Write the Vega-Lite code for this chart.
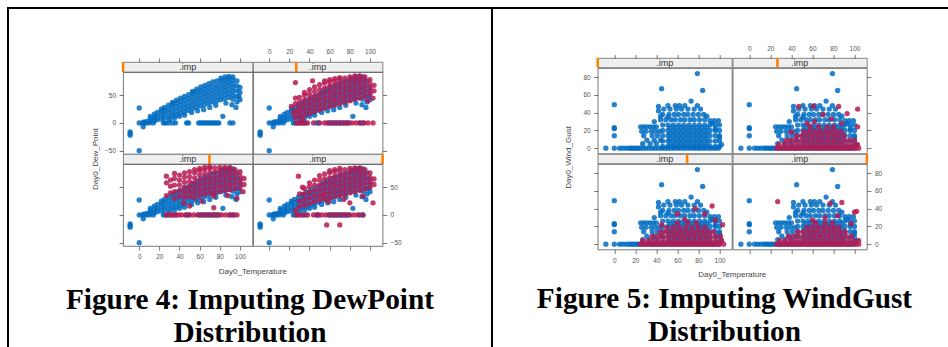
{
"$schema": "https://vega.github.io/schema/vega-lite/v6.json",
"padding": {"left": 7, "top": 7, "right": 0, "bottom": 0},
"background": "white",
"spacing": 0,
"config": {
  "view": {"stroke": null},
  "axis": {"domain": false, "grid": false, "ticks": true, "tickSize": 4, "tickColor": "#555", "tickWidth": 0.8, "tickCount": 12, "labelFont": "Liberation Sans", "labelFontSize": 6.5, "labelColor": "#555", "labelPadding": 3.5, "labelOverlap": false, "labelFlush": false, "labelBound": false},
  "title": {"font": "Liberation Sans", "fontSize": 8, "fontWeight": "normal", "color": "#444", "anchor": "middle"}
},
"datasets": {
"dew_obs": [{"temp":0,"dew":0},{"temp":3,"dew":0},{"temp":5,"dew":0},{"temp":7,"dew":0},{"temp":10,"dew":0},{"temp":14,"dew":0},{"temp":24,"dew":0},{"temp":26,"dew":0},{"temp":29,"dew":0},{"temp":33,"dew":0},{"temp":36,"dew":0},{"temp":47,"dew":0},{"temp":49,"dew":0},{"temp":59,"dew":0},{"temp":61,"dew":0},{"temp":63,"dew":0},{"temp":65,"dew":0},{"temp":67,"dew":0},{"temp":69,"dew":0},{"temp":71,"dew":0},{"temp":73,"dew":0},{"temp":75,"dew":0},{"temp":77,"dew":0},{"temp":79,"dew":0},{"temp":90,"dew":0},{"temp":93,"dew":0},
{"temp":0,"dew":27},{"temp":-9,"dew":-16},{"temp":-9,"dew":-19},{"temp":-9,"dew":-22},{"temp":0,"dew":-50},{"temp":4,"dew":-7},{"temp":83,"dew":12},{"temp":5,"dew":2},{"temp":8,"dew":3},
{"temp":11,"dew":3},{"temp":11,"dew":8},{"temp":11,"dew":12},
{"temp":15,"dew":4},{"temp":15,"dew":10},{"temp":15,"dew":16},
{"temp":18,"dew":6},{"temp":18,"dew":12},{"temp":18,"dew":19},
{"temp":22,"dew":7},{"temp":22,"dew":14},{"temp":22,"dew":21},{"temp":22,"dew":25},
{"temp":25,"dew":9},{"temp":25,"dew":16},{"temp":25,"dew":23},{"temp":25,"dew":28},
{"temp":29,"dew":11},{"temp":29,"dew":18},{"temp":29,"dew":25},{"temp":29,"dew":32},
{"temp":33,"dew":13},{"temp":33,"dew":20},{"temp":33,"dew":27},{"temp":33,"dew":34},{"temp":33,"dew":37},
{"temp":37,"dew":15},{"temp":37,"dew":22},{"temp":37,"dew":29},{"temp":37,"dew":36},{"temp":37,"dew":41},
{"temp":41,"dew":18},{"temp":41,"dew":25},{"temp":41,"dew":32},{"temp":41,"dew":39},{"temp":41,"dew":45},
{"temp":45,"dew":20},{"temp":45,"dew":27},{"temp":45,"dew":34},{"temp":45,"dew":41},{"temp":45,"dew":48},
{"temp":49,"dew":23},{"temp":49,"dew":30},{"temp":49,"dew":37},{"temp":49,"dew":44},{"temp":49,"dew":51},
{"temp":53,"dew":26},{"temp":53,"dew":33},{"temp":53,"dew":40},{"temp":53,"dew":47},{"temp":53,"dew":54},{"temp":53,"dew":57},
{"temp":57,"dew":28},{"temp":57,"dew":35},{"temp":57,"dew":42},{"temp":57,"dew":49},{"temp":57,"dew":56},{"temp":57,"dew":61},
{"temp":61,"dew":31},{"temp":61,"dew":38},{"temp":61,"dew":45},{"temp":61,"dew":52},{"temp":61,"dew":59},{"temp":61,"dew":65},
{"temp":65,"dew":33},{"temp":65,"dew":40},{"temp":65,"dew":47},{"temp":65,"dew":54},{"temp":65,"dew":61},{"temp":65,"dew":68},
{"temp":69,"dew":36},{"temp":69,"dew":43},{"temp":69,"dew":50},{"temp":69,"dew":57},{"temp":69,"dew":64},{"temp":69,"dew":71},
{"temp":73,"dew":38},{"temp":73,"dew":45},{"temp":73,"dew":52},{"temp":73,"dew":59},{"temp":73,"dew":66},{"temp":73,"dew":74},
{"temp":77,"dew":40},{"temp":77,"dew":47},{"temp":77,"dew":54},{"temp":77,"dew":61},{"temp":77,"dew":68},{"temp":77,"dew":76},
{"temp":81,"dew":42},{"temp":81,"dew":49},{"temp":81,"dew":56},{"temp":81,"dew":63},{"temp":81,"dew":70},{"temp":81,"dew":77},{"temp":81,"dew":81},
{"temp":85,"dew":44},{"temp":85,"dew":51},{"temp":85,"dew":58},{"temp":85,"dew":65},{"temp":85,"dew":72},{"temp":85,"dew":78},{"temp":85,"dew":83},
{"temp":89,"dew":46},{"temp":89,"dew":53},{"temp":89,"dew":60},{"temp":89,"dew":67},{"temp":89,"dew":74},{"temp":89,"dew":80},{"temp":89,"dew":84},
{"temp":93,"dew":43},{"temp":93,"dew":50},{"temp":93,"dew":57},{"temp":93,"dew":64},{"temp":93,"dew":71},{"temp":93,"dew":78},{"temp":93,"dew":83},
{"temp":97,"dew":38},{"temp":97,"dew":48},{"temp":97,"dew":58},{"temp":97,"dew":67},{"temp":97,"dew":76},
{"temp":100,"dew":42},{"temp":100,"dew":55},{"temp":100,"dew":64},
{"temp":45,"dew":14},{"temp":52,"dew":19},{"temp":58,"dew":22},{"temp":64,"dew":24},{"temp":70,"dew":28},{"temp":76,"dew":32},{"temp":86,"dew":36},{"temp":92,"dew":33},{"temp":96,"dew":28},{"temp":99,"dew":48},{"temp":40,"dew":12},{"temp":35,"dew":9},{"temp":30,"dew":6}],
"dew_imp_a": [{"temp":26,"dew":10},{"temp":26,"dew":22},{"temp":26,"dew":35},{"temp":26,"dew":45},
{"temp":30,"dew":12},{"temp":30,"dew":20},{"temp":30,"dew":28},{"temp":30,"dew":37},{"temp":30,"dew":46},
{"temp":35,"dew":14},{"temp":35,"dew":23},{"temp":35,"dew":32},{"temp":35,"dew":41},{"temp":35,"dew":50},{"temp":35,"dew":55},
{"temp":40,"dew":17},{"temp":40,"dew":26},{"temp":40,"dew":35},{"temp":40,"dew":44},{"temp":40,"dew":52},{"temp":40,"dew":60},
{"temp":45,"dew":21},{"temp":45,"dew":30},{"temp":45,"dew":39},{"temp":45,"dew":48},{"temp":45,"dew":57},{"temp":45,"dew":65},
{"temp":50,"dew":24},{"temp":50,"dew":33},{"temp":50,"dew":42},{"temp":50,"dew":51},{"temp":50,"dew":60},{"temp":50,"dew":69},
{"temp":55,"dew":27},{"temp":55,"dew":36},{"temp":55,"dew":45},{"temp":55,"dew":54},{"temp":55,"dew":63},{"temp":55,"dew":72},{"temp":55,"dew":76},
{"temp":60,"dew":30},{"temp":60,"dew":39},{"temp":60,"dew":48},{"temp":60,"dew":57},{"temp":60,"dew":66},{"temp":60,"dew":74},{"temp":60,"dew":78},
{"temp":65,"dew":32},{"temp":65,"dew":41},{"temp":65,"dew":50},{"temp":65,"dew":59},{"temp":65,"dew":68},{"temp":65,"dew":76},{"temp":65,"dew":80},
{"temp":70,"dew":35},{"temp":70,"dew":44},{"temp":70,"dew":53},{"temp":70,"dew":62},{"temp":70,"dew":71},{"temp":70,"dew":79},{"temp":70,"dew":82},
{"temp":75,"dew":37},{"temp":75,"dew":46},{"temp":75,"dew":55},{"temp":75,"dew":64},{"temp":75,"dew":73},{"temp":75,"dew":81},
{"temp":80,"dew":40},{"temp":80,"dew":49},{"temp":80,"dew":58},{"temp":80,"dew":67},{"temp":80,"dew":76},{"temp":80,"dew":83},
{"temp":85,"dew":43},{"temp":85,"dew":52},{"temp":85,"dew":61},{"temp":85,"dew":70},{"temp":85,"dew":78},{"temp":85,"dew":85},
{"temp":90,"dew":45},{"temp":90,"dew":54},{"temp":90,"dew":63},{"temp":90,"dew":72},{"temp":90,"dew":80},{"temp":90,"dew":85},
{"temp":95,"dew":48},{"temp":95,"dew":57},{"temp":95,"dew":66},{"temp":95,"dew":75},{"temp":95,"dew":83},
{"temp":100,"dew":52},{"temp":100,"dew":61},{"temp":100,"dew":70},{"temp":100,"dew":78},
{"temp":104,"dew":58},{"temp":104,"dew":68},
{"temp":26,"dew":73},{"temp":43,"dew":76},{"temp":22,"dew":30},{"temp":24,"dew":18},{"temp":33,"dew":5},{"temp":103,"dew":45},{"temp":98,"dew":40},
{"temp":27,"dew":0},{"temp":30,"dew":0},{"temp":32,"dew":0},{"temp":35,"dew":0},{"temp":38,"dew":0},{"temp":44,"dew":0},{"temp":50,"dew":0},{"temp":55,"dew":0},{"temp":58,"dew":0},{"temp":62,"dew":0},{"temp":66,"dew":0},{"temp":70,"dew":0},{"temp":74,"dew":0},{"temp":78,"dew":0},{"temp":82,"dew":0},{"temp":86,"dew":0},{"temp":90,"dew":0},{"temp":94,"dew":0},{"temp":98,"dew":0},{"temp":103,"dew":0}],
"dew_imp_b": [{"temp":27,"dew":35},{"temp":27,"dew":58},{"temp":27,"dew":70},
{"temp":31,"dew":40},{"temp":31,"dew":52},{"temp":31,"dew":63},
{"temp":35,"dew":30},{"temp":35,"dew":42},{"temp":35,"dew":54},{"temp":35,"dew":66},{"temp":35,"dew":75},
{"temp":40,"dew":34},{"temp":40,"dew":44},{"temp":40,"dew":54},{"temp":40,"dew":63},{"temp":40,"dew":72},
{"temp":45,"dew":32},{"temp":45,"dew":41},{"temp":45,"dew":50},{"temp":45,"dew":59},{"temp":45,"dew":68},{"temp":45,"dew":76},
{"temp":50,"dew":33},{"temp":50,"dew":42},{"temp":50,"dew":51},{"temp":50,"dew":60},{"temp":50,"dew":69},{"temp":50,"dew":78},
{"temp":55,"dew":31},{"temp":55,"dew":40},{"temp":55,"dew":49},{"temp":55,"dew":58},{"temp":55,"dew":67},{"temp":55,"dew":76},{"temp":55,"dew":82},
{"temp":60,"dew":36},{"temp":60,"dew":45},{"temp":60,"dew":54},{"temp":60,"dew":63},{"temp":60,"dew":72},{"temp":60,"dew":80},{"temp":60,"dew":84},
{"temp":65,"dew":38},{"temp":65,"dew":47},{"temp":65,"dew":56},{"temp":65,"dew":65},{"temp":65,"dew":74},{"temp":65,"dew":82},{"temp":65,"dew":86},
{"temp":70,"dew":40},{"temp":70,"dew":49},{"temp":70,"dew":58},{"temp":70,"dew":67},{"temp":70,"dew":76},{"temp":70,"dew":84},{"temp":70,"dew":87},
{"temp":75,"dew":41},{"temp":75,"dew":50},{"temp":75,"dew":59},{"temp":75,"dew":68},{"temp":75,"dew":77},{"temp":75,"dew":85},
{"temp":80,"dew":43},{"temp":80,"dew":52},{"temp":80,"dew":61},{"temp":80,"dew":70},{"temp":80,"dew":79},{"temp":80,"dew":86},
{"temp":85,"dew":44},{"temp":85,"dew":53},{"temp":85,"dew":62},{"temp":85,"dew":71},{"temp":85,"dew":80},{"temp":85,"dew":86},
{"temp":90,"dew":46},{"temp":90,"dew":55},{"temp":90,"dew":64},{"temp":90,"dew":73},{"temp":90,"dew":81},{"temp":90,"dew":86},
{"temp":95,"dew":47},{"temp":95,"dew":56},{"temp":95,"dew":65},{"temp":95,"dew":74},{"temp":95,"dew":82},
{"temp":100,"dew":50},{"temp":100,"dew":60},{"temp":100,"dew":70},{"temp":100,"dew":78},
{"temp":104,"dew":55},{"temp":104,"dew":66},
{"temp":50,"dew":16},{"temp":74,"dew":13},{"temp":74,"dew":34},{"temp":62,"dew":25},{"temp":88,"dew":35},{"temp":97,"dew":30},{"temp":44,"dew":22},{"temp":103,"dew":42},
{"temp":27,"dew":0},{"temp":30,"dew":0},{"temp":33,"dew":0},{"temp":36,"dew":0},{"temp":39,"dew":0},{"temp":42,"dew":0},{"temp":46,"dew":0},{"temp":50,"dew":0},{"temp":54,"dew":0},{"temp":58,"dew":0},{"temp":62,"dew":0},{"temp":66,"dew":0},{"temp":70,"dew":0},{"temp":74,"dew":0},{"temp":78,"dew":0},{"temp":82,"dew":0},{"temp":86,"dew":0},{"temp":90,"dew":0},{"temp":94,"dew":0},{"temp":97,"dew":0}],
"dew_imp_c": [{"temp":30,"dew":15},{"temp":30,"dew":25},{"temp":30,"dew":38},
{"temp":35,"dew":18},{"temp":35,"dew":28},{"temp":35,"dew":38},{"temp":35,"dew":48},
{"temp":40,"dew":21},{"temp":40,"dew":31},{"temp":40,"dew":41},{"temp":40,"dew":51},{"temp":40,"dew":58},
{"temp":45,"dew":24},{"temp":45,"dew":34},{"temp":45,"dew":44},{"temp":45,"dew":54},{"temp":45,"dew":63},
{"temp":50,"dew":27},{"temp":50,"dew":36},{"temp":50,"dew":45},{"temp":50,"dew":54},{"temp":50,"dew":63},{"temp":50,"dew":71},
{"temp":55,"dew":29},{"temp":55,"dew":38},{"temp":55,"dew":47},{"temp":55,"dew":56},{"temp":55,"dew":65},{"temp":55,"dew":74},
{"temp":60,"dew":31},{"temp":60,"dew":40},{"temp":60,"dew":49},{"temp":60,"dew":58},{"temp":60,"dew":67},{"temp":60,"dew":76},{"temp":60,"dew":80},
{"temp":65,"dew":33},{"temp":65,"dew":42},{"temp":65,"dew":51},{"temp":65,"dew":60},{"temp":65,"dew":69},{"temp":65,"dew":78},{"temp":65,"dew":82},
{"temp":70,"dew":35},{"temp":70,"dew":44},{"temp":70,"dew":53},{"temp":70,"dew":62},{"temp":70,"dew":71},{"temp":70,"dew":80},{"temp":70,"dew":84},
{"temp":75,"dew":37},{"temp":75,"dew":46},{"temp":75,"dew":55},{"temp":75,"dew":64},{"temp":75,"dew":73},{"temp":75,"dew":82},
{"temp":80,"dew":40},{"temp":80,"dew":49},{"temp":80,"dew":58},{"temp":80,"dew":67},{"temp":80,"dew":76},{"temp":80,"dew":84},
{"temp":85,"dew":42},{"temp":85,"dew":51},{"temp":85,"dew":60},{"temp":85,"dew":69},{"temp":85,"dew":78},{"temp":85,"dew":85},
{"temp":90,"dew":44},{"temp":90,"dew":53},{"temp":90,"dew":62},{"temp":90,"dew":71},{"temp":90,"dew":80},{"temp":90,"dew":85},
{"temp":95,"dew":47},{"temp":95,"dew":56},{"temp":95,"dew":65},{"temp":95,"dew":74},{"temp":95,"dew":82},
{"temp":100,"dew":50},{"temp":100,"dew":59},{"temp":100,"dew":68},{"temp":100,"dew":76},
{"temp":104,"dew":55},{"temp":104,"dew":65},
{"temp":29,"dew":70},{"temp":54,"dew":37},{"temp":59,"dew":24},{"temp":74,"dew":28},{"temp":80,"dew":22},{"temp":103,"dew":22},{"temp":93,"dew":34},{"temp":57,"dew":-18},{"temp":70,"dew":-18},{"temp":26,"dew":8},{"temp":33,"dew":50},
{"temp":27,"dew":0},{"temp":30,"dew":0},{"temp":34,"dew":0},{"temp":38,"dew":0},{"temp":44,"dew":0},{"temp":48,"dew":0},{"temp":52,"dew":0},{"temp":56,"dew":0},{"temp":60,"dew":0},{"temp":64,"dew":0},{"temp":68,"dew":0},{"temp":72,"dew":0},{"temp":76,"dew":0},{"temp":80,"dew":0},{"temp":84,"dew":0},{"temp":88,"dew":0},{"temp":93,"dew":0}],
"wind_obs": [{"temp":-8,"gust":0},{"temp":0,"gust":0},{"temp":5,"gust":0},{"temp":8,"gust":0},{"temp":11,"gust":0},{"temp":14,"gust":0},{"temp":16,"gust":0},{"temp":18,"gust":0},{"temp":20,"gust":0},{"temp":22,"gust":0},{"temp":24,"gust":0},{"temp":27,"gust":0},{"temp":30,"gust":0},{"temp":33,"gust":0},{"temp":36,"gust":0},{"temp":39,"gust":0},{"temp":42,"gust":0},{"temp":45,"gust":0},{"temp":48,"gust":0},{"temp":51,"gust":0},{"temp":54,"gust":0},{"temp":57,"gust":0},{"temp":60,"gust":0},{"temp":63,"gust":0},{"temp":66,"gust":0},{"temp":69,"gust":0},{"temp":72,"gust":0},{"temp":75,"gust":0},{"temp":78,"gust":0},{"temp":81,"gust":0},{"temp":84,"gust":0},{"temp":87,"gust":0},{"temp":90,"gust":0},{"temp":93,"gust":0},{"temp":96,"gust":0},{"temp":99,"gust":0},
{"temp":0,"gust":49},{"temp":0,"gust":23},{"temp":0,"gust":22},{"temp":0,"gust":14},{"temp":45,"gust":67},{"temp":79,"gust":84},{"temp":84,"gust":65},
{"temp":25,"gust":24},{"temp":28,"gust":24},{"temp":31,"gust":24},{"temp":34,"gust":24},{"temp":37,"gust":24},{"temp":40,"gust":24},
{"temp":26,"gust":19},{"temp":30,"gust":19},{"temp":35,"gust":19},{"temp":39,"gust":19},{"temp":43,"gust":19},
{"temp":28,"gust":14},{"temp":36,"gust":14},{"temp":41,"gust":14},{"temp":31,"gust":9},{"temp":38,"gust":9},{"temp":44,"gust":9},{"temp":27,"gust":5},{"temp":34,"gust":5},{"temp":40,"gust":5},
{"temp":42,"gust":47},{"temp":42,"gust":42},{"temp":38,"gust":30},{"temp":44,"gust":36},
{"temp":46,"gust":2},{"temp":51,"gust":2},{"temp":56,"gust":2},{"temp":61,"gust":2},{"temp":66,"gust":2},{"temp":71,"gust":2},{"temp":76,"gust":2},{"temp":81,"gust":2},{"temp":86,"gust":2},{"temp":91,"gust":2},{"temp":96,"gust":2},{"temp":100,"gust":2},
{"temp":46,"gust":8},{"temp":51,"gust":8},{"temp":56,"gust":8},{"temp":61,"gust":8},{"temp":66,"gust":8},{"temp":71,"gust":8},{"temp":76,"gust":8},{"temp":81,"gust":8},{"temp":86,"gust":8},{"temp":91,"gust":8},{"temp":96,"gust":8},{"temp":100,"gust":8},
{"temp":46,"gust":14},{"temp":51,"gust":14},{"temp":56,"gust":14},{"temp":61,"gust":14},{"temp":66,"gust":14},{"temp":71,"gust":14},{"temp":76,"gust":14},{"temp":81,"gust":14},{"temp":86,"gust":14},{"temp":91,"gust":14},{"temp":96,"gust":14},{"temp":100,"gust":14},
{"temp":46,"gust":20},{"temp":51,"gust":20},{"temp":56,"gust":20},{"temp":61,"gust":20},{"temp":66,"gust":20},{"temp":71,"gust":20},{"temp":76,"gust":20},{"temp":81,"gust":20},{"temp":86,"gust":20},{"temp":91,"gust":20},{"temp":96,"gust":20},{"temp":100,"gust":20},
{"temp":46,"gust":26},{"temp":51,"gust":26},{"temp":56,"gust":26},{"temp":61,"gust":26},{"temp":66,"gust":26},{"temp":71,"gust":26},{"temp":76,"gust":26},{"temp":81,"gust":26},{"temp":86,"gust":26},{"temp":91,"gust":26},{"temp":96,"gust":26},{"temp":100,"gust":26},
{"temp":53,"gust":5},{"temp":58,"gust":5},{"temp":63,"gust":5},{"temp":68,"gust":5},{"temp":73,"gust":5},{"temp":78,"gust":5},{"temp":83,"gust":5},{"temp":88,"gust":5},
{"temp":53,"gust":11},{"temp":58,"gust":11},{"temp":63,"gust":11},{"temp":68,"gust":11},{"temp":73,"gust":11},{"temp":78,"gust":11},{"temp":83,"gust":11},{"temp":88,"gust":11},
{"temp":53,"gust":17},{"temp":58,"gust":17},{"temp":63,"gust":17},{"temp":68,"gust":17},{"temp":73,"gust":17},{"temp":78,"gust":17},{"temp":83,"gust":17},{"temp":88,"gust":17},
{"temp":53,"gust":23},{"temp":58,"gust":23},{"temp":63,"gust":23},{"temp":68,"gust":23},{"temp":73,"gust":23},{"temp":78,"gust":23},{"temp":83,"gust":23},{"temp":88,"gust":23},
{"temp":44,"gust":32},{"temp":49,"gust":32},{"temp":54,"gust":32},{"temp":58,"gust":32},{"temp":63,"gust":32},{"temp":67,"gust":32},{"temp":72,"gust":32},{"temp":76,"gust":32},{"temp":81,"gust":32},{"temp":86,"gust":32},{"temp":91,"gust":31},{"temp":95,"gust":31},{"temp":99,"gust":31},
{"temp":46,"gust":38},{"temp":52,"gust":38},{"temp":57,"gust":38},{"temp":61,"gust":38},{"temp":66,"gust":38},{"temp":70,"gust":38},{"temp":75,"gust":38},{"temp":80,"gust":38},{"temp":85,"gust":38},
{"temp":47,"gust":44},{"temp":53,"gust":44},{"temp":59,"gust":44},{"temp":64,"gust":44},{"temp":70,"gust":44},{"temp":76,"gust":44},{"temp":82,"gust":44},
{"temp":51,"gust":48},{"temp":58,"gust":48},{"temp":62,"gust":48},{"temp":67,"gust":48},{"temp":79,"gust":48},{"temp":73,"gust":53},
{"temp":51,"gust":35},{"temp":88,"gust":36},{"temp":96,"gust":22},{"temp":100,"gust":12},{"temp":102,"gust":4},{"temp":93,"gust":28}],
"wind_imp_a": [{"temp":26,"gust":0},{"temp":29,"gust":0},{"temp":32,"gust":0},{"temp":35,"gust":0},{"temp":38,"gust":0},{"temp":41,"gust":0},{"temp":44,"gust":0},{"temp":47,"gust":0},{"temp":50,"gust":0},{"temp":53,"gust":0},{"temp":56,"gust":0},{"temp":59,"gust":0},{"temp":62,"gust":0},{"temp":65,"gust":0},{"temp":68,"gust":0},{"temp":71,"gust":0},{"temp":74,"gust":0},{"temp":77,"gust":0},{"temp":80,"gust":0},{"temp":83,"gust":0},{"temp":86,"gust":0},{"temp":89,"gust":0},{"temp":92,"gust":0},{"temp":95,"gust":0},{"temp":98,"gust":0},{"temp":101,"gust":0},{"temp":104,"gust":0},
{"temp":28,"gust":4},{"temp":33,"gust":4},{"temp":38,"gust":4},{"temp":43,"gust":4},{"temp":48,"gust":4},{"temp":53,"gust":4},{"temp":58,"gust":4},{"temp":63,"gust":4},{"temp":68,"gust":4},{"temp":73,"gust":4},{"temp":78,"gust":4},{"temp":83,"gust":4},{"temp":88,"gust":4},{"temp":93,"gust":4},{"temp":98,"gust":4},{"temp":103,"gust":4},
{"temp":35,"gust":9},{"temp":40,"gust":9},{"temp":45,"gust":9},{"temp":50,"gust":9},{"temp":55,"gust":9},{"temp":60,"gust":9},{"temp":65,"gust":9},{"temp":70,"gust":9},{"temp":75,"gust":9},{"temp":80,"gust":9},{"temp":85,"gust":9},{"temp":90,"gust":9},{"temp":95,"gust":9},{"temp":100,"gust":9},
{"temp":45,"gust":14},{"temp":50,"gust":14},{"temp":55,"gust":14},{"temp":60,"gust":14},{"temp":65,"gust":14},{"temp":70,"gust":14},{"temp":75,"gust":14},{"temp":80,"gust":14},{"temp":85,"gust":14},{"temp":90,"gust":14},
{"temp":52,"gust":19},{"temp":57,"gust":19},{"temp":62,"gust":19},{"temp":67,"gust":19},{"temp":72,"gust":19},{"temp":77,"gust":19},{"temp":82,"gust":19},{"temp":87,"gust":19},
{"temp":58,"gust":24},{"temp":66,"gust":24},{"temp":74,"gust":24},{"temp":80,"gust":24},
{"temp":47,"gust":47},{"temp":61,"gust":47},{"temp":85,"gust":47},{"temp":103,"gust":44},{"temp":93,"gust":39},{"temp":103,"gust":24},{"temp":62,"gust":30},{"temp":78,"gust":33},{"temp":70,"gust":38},{"temp":88,"gust":28},{"temp":55,"gust":28},{"temp":40,"gust":18}],
"wind_imp_b": [{"temp":25,"gust":0},{"temp":28,"gust":0},{"temp":31,"gust":0},{"temp":34,"gust":0},{"temp":37,"gust":0},{"temp":40,"gust":0},{"temp":43,"gust":0},{"temp":46,"gust":0},{"temp":49,"gust":0},{"temp":52,"gust":0},{"temp":55,"gust":0},{"temp":58,"gust":0},{"temp":61,"gust":0},{"temp":64,"gust":0},{"temp":67,"gust":0},{"temp":70,"gust":0},{"temp":73,"gust":0},{"temp":76,"gust":0},{"temp":79,"gust":0},{"temp":82,"gust":0},{"temp":85,"gust":0},{"temp":88,"gust":0},{"temp":91,"gust":0},{"temp":94,"gust":0},{"temp":97,"gust":0},{"temp":100,"gust":0},{"temp":104,"gust":0},
{"temp":27,"gust":4},{"temp":32,"gust":4},{"temp":37,"gust":4},{"temp":42,"gust":4},{"temp":47,"gust":4},{"temp":52,"gust":4},{"temp":57,"gust":4},{"temp":62,"gust":4},{"temp":67,"gust":4},{"temp":72,"gust":4},{"temp":77,"gust":4},{"temp":82,"gust":4},{"temp":87,"gust":4},{"temp":92,"gust":4},{"temp":97,"gust":4},{"temp":102,"gust":4},
{"temp":36,"gust":9},{"temp":41,"gust":9},{"temp":46,"gust":9},{"temp":51,"gust":9},{"temp":56,"gust":9},{"temp":61,"gust":9},{"temp":66,"gust":9},{"temp":71,"gust":9},{"temp":76,"gust":9},{"temp":81,"gust":9},{"temp":86,"gust":9},{"temp":91,"gust":9},{"temp":96,"gust":9},{"temp":101,"gust":9},
{"temp":44,"gust":14},{"temp":49,"gust":14},{"temp":54,"gust":14},{"temp":59,"gust":14},{"temp":64,"gust":14},{"temp":69,"gust":14},{"temp":74,"gust":14},{"temp":79,"gust":14},{"temp":84,"gust":14},{"temp":89,"gust":14},{"temp":94,"gust":14},
{"temp":50,"gust":19},{"temp":56,"gust":19},{"temp":62,"gust":19},{"temp":68,"gust":19},{"temp":74,"gust":19},{"temp":80,"gust":19},{"temp":86,"gust":19},
{"temp":60,"gust":24},{"temp":70,"gust":24},{"temp":78,"gust":24},
{"temp":77,"gust":40},{"temp":93,"gust":43},{"temp":86,"gust":34},{"temp":103,"gust":22},{"temp":60,"gust":34},{"temp":67,"gust":28},{"temp":96,"gust":27},{"temp":45,"gust":22}],
"wind_imp_c": [{"temp":26,"gust":0},{"temp":29,"gust":0},{"temp":32,"gust":0},{"temp":35,"gust":0},{"temp":38,"gust":0},{"temp":41,"gust":0},{"temp":44,"gust":0},{"temp":47,"gust":0},{"temp":50,"gust":0},{"temp":53,"gust":0},{"temp":56,"gust":0},{"temp":59,"gust":0},{"temp":62,"gust":0},{"temp":65,"gust":0},{"temp":68,"gust":0},{"temp":71,"gust":0},{"temp":74,"gust":0},{"temp":77,"gust":0},{"temp":80,"gust":0},{"temp":83,"gust":0},{"temp":86,"gust":0},{"temp":89,"gust":0},{"temp":92,"gust":0},{"temp":95,"gust":0},{"temp":98,"gust":0},{"temp":101,"gust":0},{"temp":104,"gust":0},
{"temp":29,"gust":4},{"temp":34,"gust":4},{"temp":39,"gust":4},{"temp":44,"gust":4},{"temp":49,"gust":4},{"temp":54,"gust":4},{"temp":59,"gust":4},{"temp":64,"gust":4},{"temp":69,"gust":4},{"temp":74,"gust":4},{"temp":79,"gust":4},{"temp":84,"gust":4},{"temp":89,"gust":4},{"temp":94,"gust":4},{"temp":99,"gust":4},{"temp":104,"gust":4},
{"temp":37,"gust":9},{"temp":42,"gust":9},{"temp":47,"gust":9},{"temp":52,"gust":9},{"temp":57,"gust":9},{"temp":62,"gust":9},{"temp":67,"gust":9},{"temp":72,"gust":9},{"temp":77,"gust":9},{"temp":82,"gust":9},{"temp":87,"gust":9},{"temp":92,"gust":9},{"temp":97,"gust":9},
{"temp":46,"gust":14},{"temp":51,"gust":14},{"temp":56,"gust":14},{"temp":61,"gust":14},{"temp":66,"gust":14},{"temp":71,"gust":14},{"temp":76,"gust":14},{"temp":81,"gust":14},{"temp":86,"gust":14},{"temp":91,"gust":14},
{"temp":55,"gust":19},{"temp":60,"gust":19},{"temp":65,"gust":19},{"temp":70,"gust":19},{"temp":75,"gust":19},{"temp":80,"gust":19},{"temp":85,"gust":19},
{"temp":63,"gust":24},{"temp":72,"gust":24},{"temp":79,"gust":24},
{"temp":27,"gust":48},{"temp":77,"gust":46},{"temp":88,"gust":47},{"temp":100,"gust":36},{"temp":97,"gust":23},{"temp":72,"gust":30},{"temp":84,"gust":32},{"temp":60,"gust":27},{"temp":102,"gust":37}]
},
"hconcat": [
{"width": 2, "height": 340, "view": {"fill": "black", "stroke": null}, "data": {"values": [{"edge": "left"}]}, "mark": {"type": "rect", "color": "black"}},
{"vconcat": [
  {"width": 482, "height": 2, "view": {"fill": "black", "stroke": null}, "data": {"values": [{"edge": "top"}]}, "mark": {"type": "rect", "color": "black"}},
  {"hconcat": [
    {"width": 4, "height": 194, "data": {"values": [{"title": "Day0_Dew_Point"}]},
     "mark": {"type": "text", "angle": 270, "baseline": "bottom", "font": "Liberation Sans", "fontSize": 8, "color": "#444"},
     "encoding": {"text": {"field": "title", "type": "nominal"}}},
    {"concat": [
      {"width": 129.5, "height": 10, "view": {"fill": "#EFEFEF", "stroke": "#666", "strokeWidth": 0.8}, "data": {"values": [{"imp": 0, "label": ".imp"}]},
       "layer": [
        {"mark": {"type": "rule", "color": "#FF7F00", "strokeWidth": 2.5}, "encoding": {"x": {"field": "imp", "type": "quantitative", "scale": {"domain": [0, 3], "nice": false, "zero": false}, "axis": null}}},
        {"mark": {"type": "text", "font": "Liberation Sans", "fontSize": 9, "color": "#333"}, "encoding": {"text": {"field": "label", "type": "nominal"}}}
       ]},
      {"width": 129.5, "height": 10, "view": {"fill": "#EFEFEF", "stroke": "#666", "strokeWidth": 0.8}, "data": {"values": [{"imp": 1, "label": ".imp"}]},
       "layer": [
        {"mark": {"type": "rule", "color": "#FF7F00", "strokeWidth": 2.5}, "encoding": {"x": {"field": "imp", "type": "quantitative", "scale": {"domain": [0, 3], "nice": false, "zero": false}, "axis": null}}},
        {"mark": {"type": "text", "font": "Liberation Sans", "fontSize": 9, "color": "#333"}, "encoding": {"text": {"field": "label", "type": "nominal"}}}
       ]},
      {"width": 129.5, "height": 82, "view": {"stroke": "#555", "strokeWidth": 0.8},
       "layer": [
        {"data": {"name": "dew_obs"}, "mark": {"type": "circle", "size": 28, "color": "#006CC2", "opacity": 0.85},
         "encoding": {"x": {"field": "temp", "type": "quantitative", "scale": {"domain": [-16, 112.5], "nice": false, "zero": false}, "axis": {"orient": "top", "offset": 10, "labels": false, "values": [0,20,40,60,80,100], "tickCount": 12, "title": null}},
                      "y": {"field": "dew", "type": "quantitative", "scale": {"domain": [-56, 92], "nice": false, "zero": false}, "axis": {"orient": "left", "values": [-50,0,50], "tickCount": 12, "title": null}}}}
       ]},
      {"width": 129.5, "height": 82, "view": {"stroke": "#555", "strokeWidth": 0.8},
       "layer": [
        {"data": {"name": "dew_obs"}, "mark": {"type": "circle", "size": 28, "color": "#006CC2", "opacity": 0.85},
         "encoding": {"x": {"field": "temp", "type": "quantitative", "scale": {"domain": [-16, 112.5], "nice": false, "zero": false}, "axis": {"orient": "top", "offset": 10, "values": [0,20,40,60,80,100], "tickCount": 12, "title": null}},
                      "y": {"field": "dew", "type": "quantitative", "scale": {"domain": [-56, 92], "nice": false, "zero": false}, "axis": {"orient": "right", "labels": false, "values": [-50,0,50], "tickCount": 12, "title": null}}}},
        {"data": {"name": "dew_imp_a"}, "mark": {"type": "circle", "size": 28, "color": "#B61A51", "opacity": 0.85},
         "encoding": {"x": {"field": "temp", "type": "quantitative"}, "y": {"field": "dew", "type": "quantitative"}}}
       ]},
      {"width": 129.5, "height": 10, "view": {"fill": "#EFEFEF", "stroke": "#666", "strokeWidth": 0.8}, "data": {"values": [{"imp": 2, "label": ".imp"}]},
       "layer": [
        {"mark": {"type": "rule", "color": "#FF7F00", "strokeWidth": 2.5}, "encoding": {"x": {"field": "imp", "type": "quantitative", "scale": {"domain": [0, 3], "nice": false, "zero": false}, "axis": null}}},
        {"mark": {"type": "text", "font": "Liberation Sans", "fontSize": 9, "color": "#333"}, "encoding": {"text": {"field": "label", "type": "nominal"}}}
       ]},
      {"width": 129.5, "height": 10, "view": {"fill": "#EFEFEF", "stroke": "#666", "strokeWidth": 0.8}, "data": {"values": [{"imp": 3, "label": ".imp"}]},
       "layer": [
        {"mark": {"type": "rule", "color": "#FF7F00", "strokeWidth": 2.5}, "encoding": {"x": {"field": "imp", "type": "quantitative", "scale": {"domain": [0, 3], "nice": false, "zero": false}, "axis": null}}},
        {"mark": {"type": "text", "font": "Liberation Sans", "fontSize": 9, "color": "#333"}, "encoding": {"text": {"field": "label", "type": "nominal"}}}
       ]},
      {"width": 129.5, "height": 82, "view": {"stroke": "#555", "strokeWidth": 0.8},
       "layer": [
        {"data": {"name": "dew_obs"}, "mark": {"type": "circle", "size": 28, "color": "#006CC2", "opacity": 0.85},
         "encoding": {"x": {"field": "temp", "type": "quantitative", "scale": {"domain": [-16, 112.5], "nice": false, "zero": false}, "axis": {"orient": "bottom", "values": [0,20,40,60,80,100], "tickCount": 12, "title": null}},
                      "y": {"field": "dew", "type": "quantitative", "scale": {"domain": [-56, 92], "nice": false, "zero": false}, "axis": {"orient": "left", "labels": false, "values": [-50,0,50], "tickCount": 12, "title": null}}}},
        {"data": {"name": "dew_imp_b"}, "mark": {"type": "circle", "size": 28, "color": "#B61A51", "opacity": 0.85},
         "encoding": {"x": {"field": "temp", "type": "quantitative"}, "y": {"field": "dew", "type": "quantitative"}}}
       ]},
      {"width": 129.5, "height": 82, "view": {"stroke": "#555", "strokeWidth": 0.8},
       "layer": [
        {"data": {"name": "dew_obs"}, "mark": {"type": "circle", "size": 28, "color": "#006CC2", "opacity": 0.85},
         "encoding": {"x": {"field": "temp", "type": "quantitative", "scale": {"domain": [-16, 112.5], "nice": false, "zero": false}, "axis": {"orient": "bottom", "labels": false, "values": [0,20,40,60,80,100], "tickCount": 12, "title": null}},
                      "y": {"field": "dew", "type": "quantitative", "scale": {"domain": [-56, 92], "nice": false, "zero": false}, "axis": {"orient": "right", "values": [-50,0,50], "tickCount": 12, "title": null}}}},
        {"data": {"name": "dew_imp_c"}, "mark": {"type": "circle", "size": 28, "color": "#B61A51", "opacity": 0.85},
         "encoding": {"x": {"field": "temp", "type": "quantitative"}, "y": {"field": "dew", "type": "quantitative"}}}
       ]}
    ],
    "columns": 2, "spacing": 0, "bounds": "flush", "align": "each",
    "title": {"text": "Day0_Temperature", "orient": "bottom", "anchor": "middle", "offset": 8}}
  ],
  "spacing": 1.6}
 ],
 "spacing": 39, "center": true,
 "title": {"text": ["Figure 4: Imputing DewPoint", "Distribution"], "orient": "bottom", "anchor": "middle", "font": "Liberation Serif", "fontSize": 29.3, "fontWeight": "bold", "color": "#000", "lineHeight": 32.5, "offset": 10}
},
{"width": 2, "height": 340, "view": {"fill": "black", "stroke": null}, "data": {"values": [{"edge": "divider"}]}, "mark": {"type": "rect", "color": "black"}},
{"vconcat": [
  {"width": 455, "height": 2, "view": {"fill": "black", "stroke": null}, "data": {"values": [{"edge": "top"}]}, "mark": {"type": "rect", "color": "black"}},
  {"hconcat": [
    {"width": 20, "height": 199, "data": {"values": [{"title": "Day0_Wind_Gust"}]},
     "mark": {"type": "text", "angle": 270, "baseline": "middle", "font": "Liberation Sans", "fontSize": 8, "color": "#444"},
     "encoding": {"text": {"field": "title", "type": "nominal"}}},
    {"concat": [
      {"width": 134.2, "height": 9.5, "view": {"fill": "#EFEFEF", "stroke": "#666", "strokeWidth": 0.8}, "data": {"values": [{"imp": 0, "label": ".imp"}]},
       "layer": [
        {"mark": {"type": "rule", "color": "#FF7F00", "strokeWidth": 2.5}, "encoding": {"x": {"field": "imp", "type": "quantitative", "scale": {"domain": [0, 3], "nice": false, "zero": false}, "axis": null}}},
        {"mark": {"type": "text", "font": "Liberation Sans", "fontSize": 9, "color": "#333"}, "encoding": {"text": {"field": "label", "type": "nominal"}}}
       ]},
      {"width": 134.2, "height": 9.5, "view": {"fill": "#EFEFEF", "stroke": "#666", "strokeWidth": 0.8}, "data": {"values": [{"imp": 1, "label": ".imp"}]},
       "layer": [
        {"mark": {"type": "rule", "color": "#FF7F00", "strokeWidth": 2.5}, "encoding": {"x": {"field": "imp", "type": "quantitative", "scale": {"domain": [0, 3], "nice": false, "zero": false}, "axis": null}}},
        {"mark": {"type": "text", "font": "Liberation Sans", "fontSize": 9, "color": "#333"}, "encoding": {"text": {"field": "label", "type": "nominal"}}}
       ]},
      {"width": 134.2, "height": 85.5, "view": {"stroke": "#555", "strokeWidth": 0.8},
       "layer": [
        {"data": {"name": "wind_obs"}, "mark": {"type": "circle", "size": 28, "color": "#006CC2", "opacity": 0.85},
         "encoding": {"x": {"field": "temp", "type": "quantitative", "scale": {"domain": [-15.8, 111.8], "nice": false, "zero": false}, "axis": {"orient": "top", "offset": 9.5, "labels": false, "values": [0,20,40,60,80,100], "tickCount": 12, "title": null}},
                      "y": {"field": "gust", "type": "quantitative", "scale": {"domain": [-6, 90.3], "nice": false, "zero": false}, "axis": {"orient": "left", "values": [0,20,40,60,80], "tickCount": 12, "title": null}}}}
       ]},
      {"width": 134.2, "height": 85.5, "view": {"stroke": "#555", "strokeWidth": 0.8},
       "layer": [
        {"data": {"name": "wind_obs"}, "mark": {"type": "circle", "size": 28, "color": "#006CC2", "opacity": 0.85},
         "encoding": {"x": {"field": "temp", "type": "quantitative", "scale": {"domain": [-15.8, 111.8], "nice": false, "zero": false}, "axis": {"orient": "top", "offset": 9.5, "values": [0,20,40,60,80,100], "tickCount": 12, "title": null}},
                      "y": {"field": "gust", "type": "quantitative", "scale": {"domain": [-6, 90.3], "nice": false, "zero": false}, "axis": {"orient": "right", "labels": false, "values": [0,20,40,60,80], "tickCount": 12, "title": null}}}},
        {"data": {"name": "wind_imp_a"}, "mark": {"type": "circle", "size": 28, "color": "#B61A51", "opacity": 0.85},
         "encoding": {"x": {"field": "temp", "type": "quantitative"}, "y": {"field": "gust", "type": "quantitative"}}}
       ]},
      {"width": 134.2, "height": 9.5, "view": {"fill": "#EFEFEF", "stroke": "#666", "strokeWidth": 0.8}, "data": {"values": [{"imp": 2, "label": ".imp"}]},
       "layer": [
        {"mark": {"type": "rule", "color": "#FF7F00", "strokeWidth": 2.5}, "encoding": {"x": {"field": "imp", "type": "quantitative", "scale": {"domain": [0, 3], "nice": false, "zero": false}, "axis": null}}},
        {"mark": {"type": "text", "font": "Liberation Sans", "fontSize": 9, "color": "#333"}, "encoding": {"text": {"field": "label", "type": "nominal"}}}
       ]},
      {"width": 134.2, "height": 9.5, "view": {"fill": "#EFEFEF", "stroke": "#666", "strokeWidth": 0.8}, "data": {"values": [{"imp": 3, "label": ".imp"}]},
       "layer": [
        {"mark": {"type": "rule", "color": "#FF7F00", "strokeWidth": 2.5}, "encoding": {"x": {"field": "imp", "type": "quantitative", "scale": {"domain": [0, 3], "nice": false, "zero": false}, "axis": null}}},
        {"mark": {"type": "text", "font": "Liberation Sans", "fontSize": 9, "color": "#333"}, "encoding": {"text": {"field": "label", "type": "nominal"}}}
       ]},
      {"width": 134.2, "height": 85.5, "view": {"stroke": "#555", "strokeWidth": 0.8},
       "layer": [
        {"data": {"name": "wind_obs"}, "mark": {"type": "circle", "size": 28, "color": "#006CC2", "opacity": 0.85},
         "encoding": {"x": {"field": "temp", "type": "quantitative", "scale": {"domain": [-15.8, 111.8], "nice": false, "zero": false}, "axis": {"orient": "bottom", "values": [0,20,40,60,80,100], "tickCount": 12, "title": null}},
                      "y": {"field": "gust", "type": "quantitative", "scale": {"domain": [-6, 90.3], "nice": false, "zero": false}, "axis": {"orient": "left", "labels": false, "values": [0,20,40,60,80], "tickCount": 12, "title": null}}}},
        {"data": {"name": "wind_imp_b"}, "mark": {"type": "circle", "size": 28, "color": "#B61A51", "opacity": 0.85},
         "encoding": {"x": {"field": "temp", "type": "quantitative"}, "y": {"field": "gust", "type": "quantitative"}}}
       ]},
      {"width": 134.2, "height": 85.5, "view": {"stroke": "#555", "strokeWidth": 0.8},
       "layer": [
        {"data": {"name": "wind_obs"}, "mark": {"type": "circle", "size": 28, "color": "#006CC2", "opacity": 0.85},
         "encoding": {"x": {"field": "temp", "type": "quantitative", "scale": {"domain": [-15.8, 111.8], "nice": false, "zero": false}, "axis": {"orient": "bottom", "labels": false, "values": [0,20,40,60,80,100], "tickCount": 12, "title": null}},
                      "y": {"field": "gust", "type": "quantitative", "scale": {"domain": [-6, 90.3], "nice": false, "zero": false}, "axis": {"orient": "right", "values": [0,20,40,60,80], "tickCount": 12, "title": null}}}},
        {"data": {"name": "wind_imp_c"}, "mark": {"type": "circle", "size": 28, "color": "#B61A51", "opacity": 0.85},
         "encoding": {"x": {"field": "temp", "type": "quantitative"}, "y": {"field": "gust", "type": "quantitative"}}}
       ]}
    ],
    "columns": 2, "spacing": 0, "bounds": "flush", "align": "each",
    "title": {"text": "Day0_Temperature", "orient": "bottom", "anchor": "middle", "offset": 7.5}}
  ],
  "spacing": 2.7}
 ],
 "spacing": 35, "center": true,
 "title": {"text": ["Figure 5: Imputing WindGust", "Distribution"], "orient": "bottom", "anchor": "middle", "font": "Liberation Serif", "fontSize": 29.3, "fontWeight": "bold", "color": "#000", "lineHeight": 32.5, "offset": 6, "dx": 4}
}
]
}
